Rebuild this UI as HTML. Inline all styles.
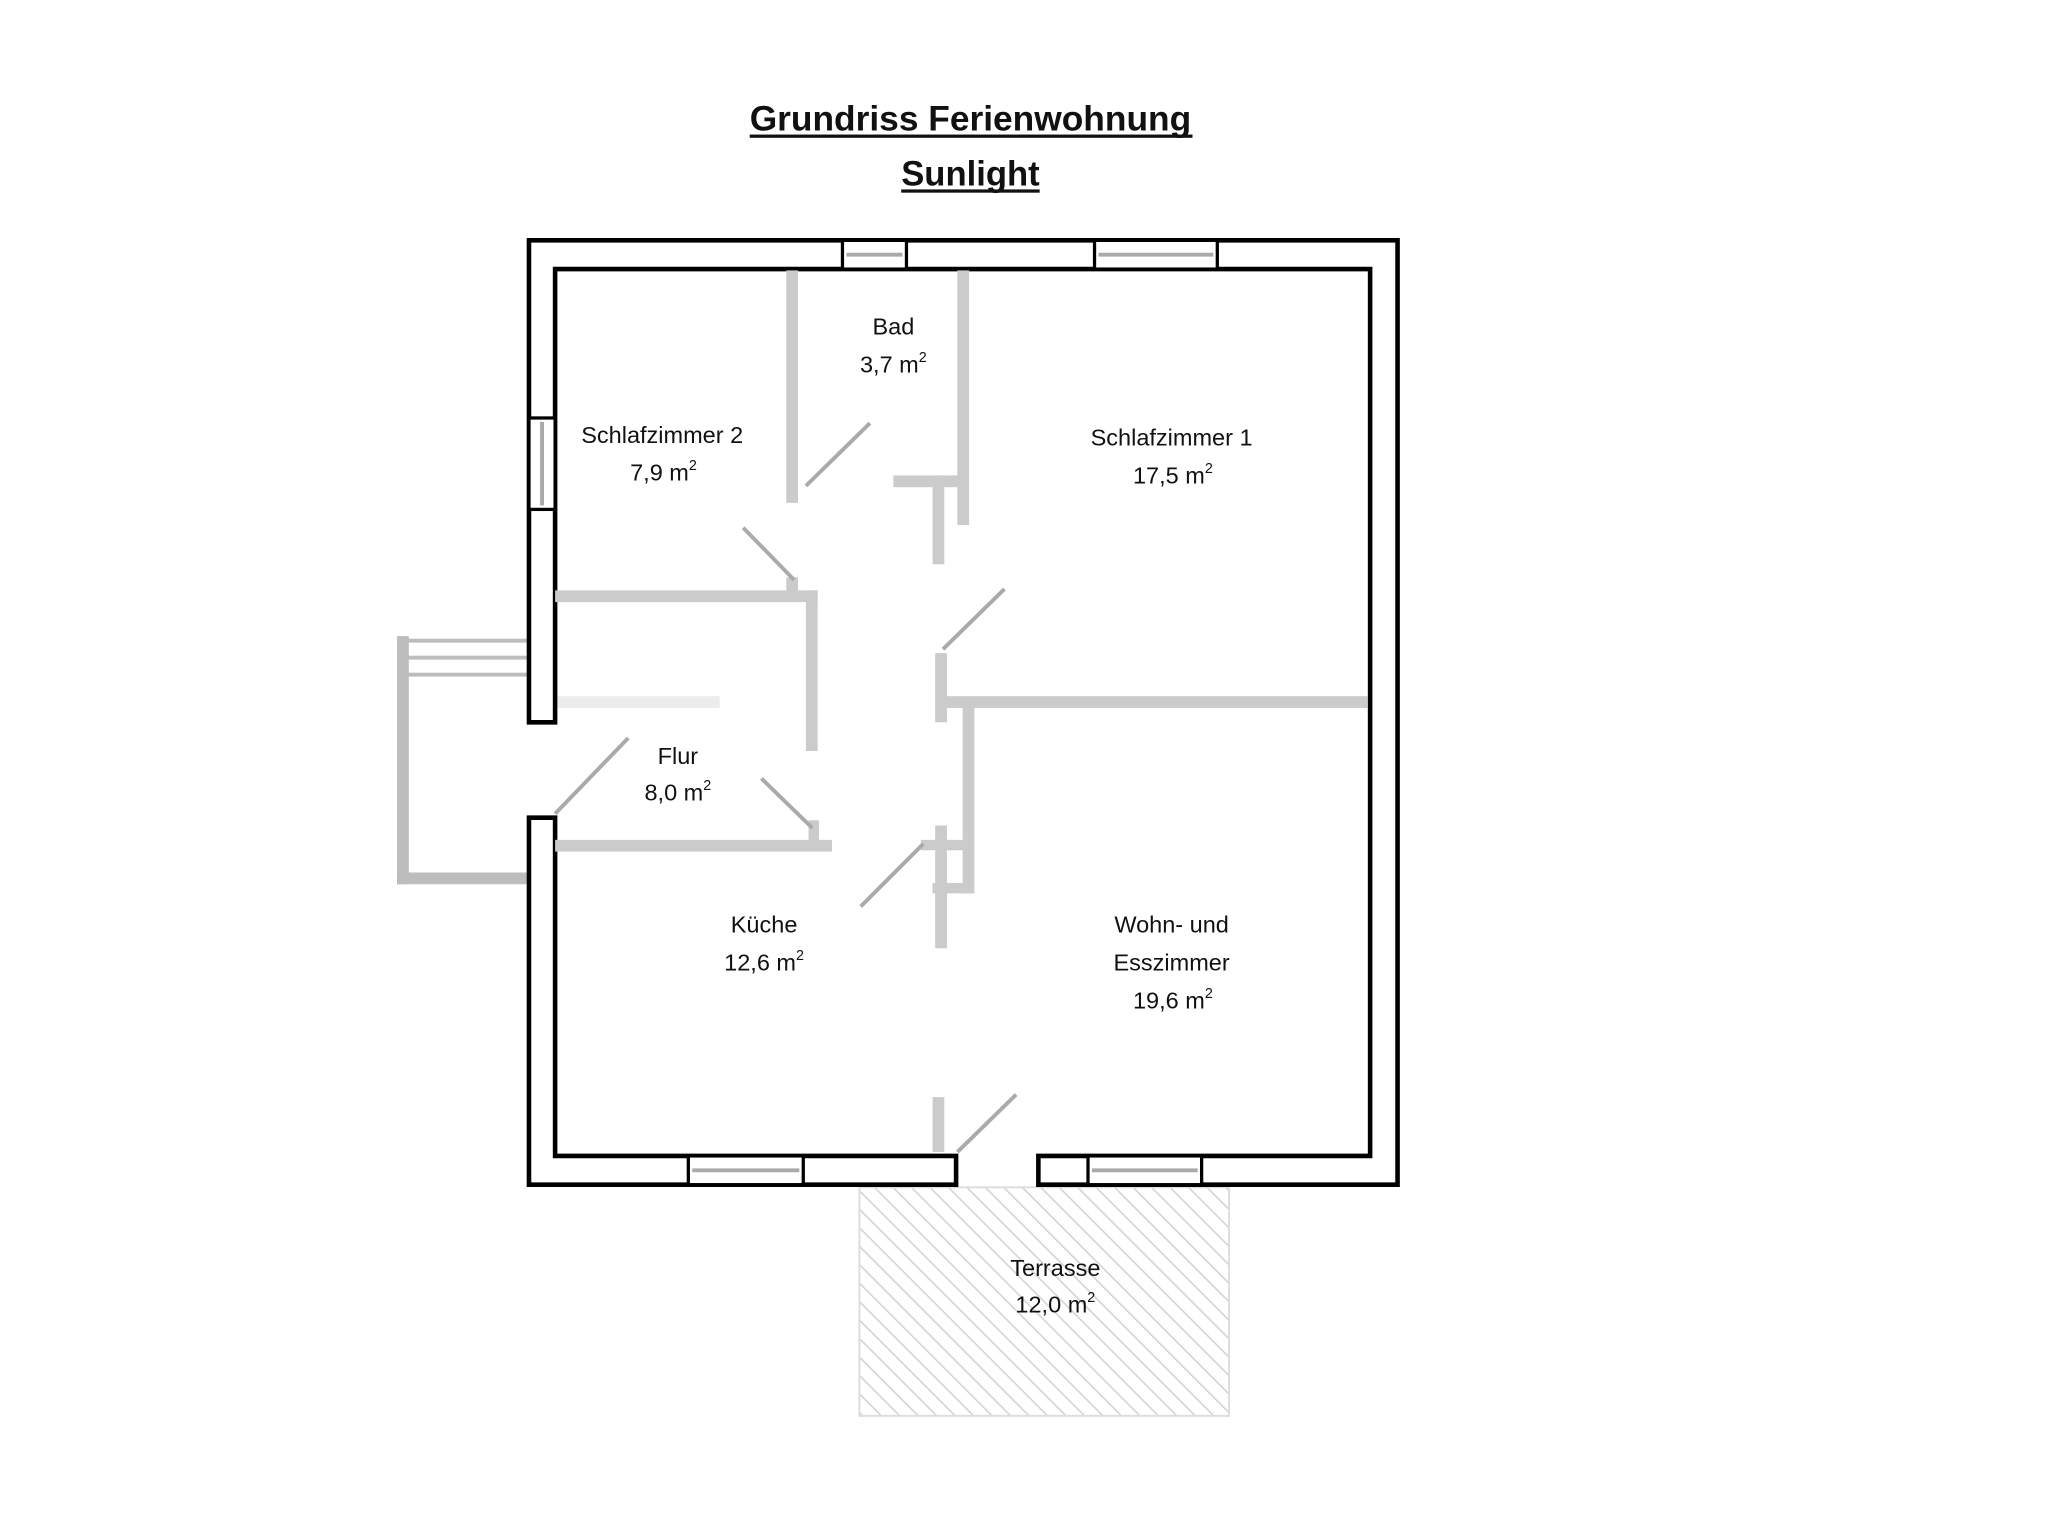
<!DOCTYPE html>
<html><head><meta charset="utf-8"><style>
html,body{margin:0;padding:0;background:#fff;}
svg{display:block;}
text{font-family:"Liberation Sans",sans-serif;fill:#111;}
</style></head><body>
<svg width="2048" height="1538" viewBox="0 0 1568 1177.5" xmlns="http://www.w3.org/2000/svg">
<defs>
<pattern id="h" width="10" height="10" patternUnits="userSpaceOnUse" patternTransform="rotate(-45)">
<line x1="0" y1="0" x2="0" y2="10" stroke="#d4d4d4" stroke-width="2.5"/>
</pattern>
</defs>
<rect width="1568" height="1178" fill="#fff"/>
<text x="743" y="100" font-size="27" font-weight="bold" text-anchor="middle" textLength="338" lengthAdjust="spacingAndGlyphs">Grundriss Ferienwohnung</text>
<rect x="574" y="103" width="339" height="2.5" fill="#111"/>
<text x="743" y="142" font-size="27" font-weight="bold" text-anchor="middle" textLength="106" lengthAdjust="spacingAndGlyphs">Sunlight</text>
<rect x="690" y="145" width="106" height="2.5" fill="#111"/>

<rect x="658" y="909" width="283" height="175" fill="url(#h)" stroke="#ddd" stroke-width="1.5"/>

<g fill="#bdbdbd">
<rect x="304" y="487" width="9" height="190"/>
<rect x="304" y="668" width="101" height="9"/>
<rect x="310" y="489" width="95" height="3"/>
<rect x="310" y="502" width="95" height="3"/>
<rect x="310" y="515" width="95" height="3"/>
</g>

<g fill="#fff" stroke="#000" stroke-width="3.5">
<path d="M405,553 L405,184 L1070,184 L1070,907 L795,907 L795,885 L1049,885 L1049,206 L425,206 L425,553 Z"/>
<path d="M405,626 L425,626 L425,885 L732,885 L732,907 L405,907 Z"/>
</g>
<g stroke="#000" stroke-width="2.5" fill="#fff">
<rect x="645" y="184" width="49" height="22"/>
<rect x="838" y="184" width="94" height="22"/>
<rect x="405" y="320" width="20" height="70"/>
<rect x="527" y="885" width="88" height="22"/>
<rect x="833" y="885" width="87" height="22"/>
</g>
<g stroke="#aaa" stroke-width="3">
<line x1="648" y1="195" x2="691" y2="195"/>
<line x1="841" y1="195" x2="929" y2="195"/>
<line x1="415" y1="323" x2="415" y2="387"/>
<line x1="530" y1="896" x2="612" y2="896"/>
<line x1="836" y1="896" x2="917" y2="896"/>
</g>

<g fill="#cbcbcb">
<rect x="602" y="207" width="9" height="178"/>
<rect x="733" y="207" width="9" height="195"/>
<rect x="684" y="364" width="54" height="9"/>
<rect x="714" y="364" width="9" height="68"/>
<rect x="425" y="452" width="201" height="9"/>
<rect x="617" y="452" width="9" height="123"/>
<rect x="602" y="442" width="9" height="12"/>
<rect x="716" y="500" width="9" height="53"/>
<rect x="721" y="533" width="326" height="9"/>
<rect x="737" y="540" width="9" height="144"/>
<rect x="425" y="643" width="212" height="9"/>
<rect x="619" y="628" width="8" height="20"/>
<rect x="716" y="632" width="9" height="94"/>
<rect x="705" y="643" width="40" height="8"/>
<rect x="714" y="676" width="31" height="8"/>
<rect x="714" y="840" width="9" height="42"/>
</g>
<rect x="427" y="533" width="124" height="9" fill="#ececec"/>

<g stroke="#aaa" stroke-width="3">
<line x1="617" y1="372" x2="666" y2="324"/>
<line x1="569" y1="404" x2="608" y2="444"/>
<line x1="722" y1="497" x2="769" y2="451"/>
<line x1="583" y1="596" x2="622" y2="634"/>
<line x1="425" y1="623" x2="481" y2="565"/>
<line x1="659" y1="694" x2="707" y2="646"/>
<line x1="733" y1="882" x2="778" y2="838"/>
</g>

<g font-size="18" text-anchor="middle">
<text x="684" y="256">Bad</text>
<text x="684" y="285">3,7 m<tspan font-size="11" dy="-8">2</tspan></text>
<text x="507" y="339">Schlafzimmer 2</text>
<text x="508" y="368">7,9 m<tspan font-size="11" dy="-8">2</tspan></text>
<text x="897" y="341">Schlafzimmer 1</text>
<text x="898" y="370">17,5 m<tspan font-size="11" dy="-8">2</tspan></text>
<text x="519" y="585">Flur</text>
<text x="519" y="613">8,0 m<tspan font-size="11" dy="-8">2</tspan></text>
<text x="585" y="714">Küche</text>
<text x="585" y="743">12,6 m<tspan font-size="11" dy="-8">2</tspan></text>
<text x="897" y="714">Wohn- und</text>
<text x="897" y="743">Esszimmer</text>
<text x="898" y="772">19,6 m<tspan font-size="11" dy="-8">2</tspan></text>
<text x="808" y="977">Terrasse</text>
<text x="808" y="1005">12,0 m<tspan font-size="11" dy="-8">2</tspan></text>
</g>
</svg>
</body></html>
